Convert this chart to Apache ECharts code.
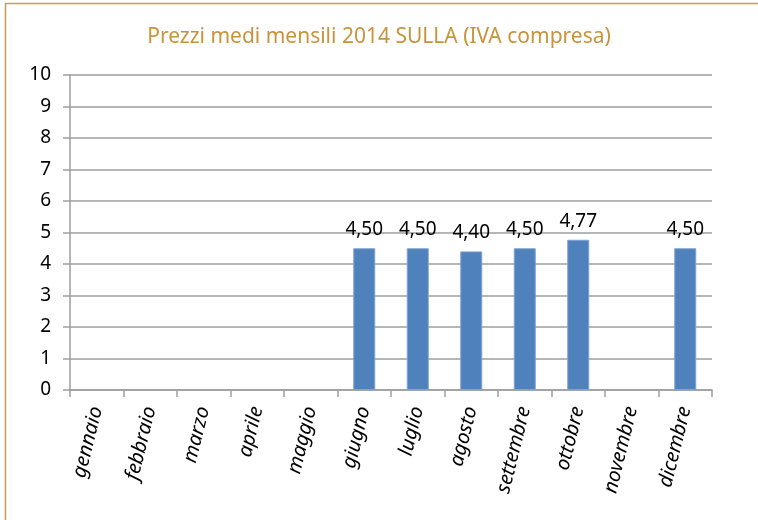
<!DOCTYPE html>
<html>
<head>
<meta charset="utf-8">
<script src="https://cdn.jsdelivr.net/npm/echarts@6/dist/echarts.min.js"></script>
<style>
  html, body { margin: 0; padding: 0; background: #fff; }
  #chart { width: 758px; height: 520px; }
</style>
</head>
<body>
<div id="chart"></div>
<script>
// dati
var mesi = ['gennaio', 'febbraio', 'marzo', 'aprile', 'maggio', 'giugno',
            'luglio', 'agosto', 'settembre', 'ottobre', 'novembre', 'dicembre'];
var prezzi = [null, null, null, null, null, 4.50, 4.50, 4.40, 4.50, 4.77, null, 4.50];
var tickY = [0, 1, 2, 3, 4, 5, 6, 7, 8, 9, 10];

var dom = document.getElementById('chart');
var myChart = echarts.init(dom);
var font = '"Noto Sans", "Open Sans", sans-serif';

var option = {
    animation: false,
    title: {
        text: 'Prezzi medi mensili 2014 SULLA (IVA compresa)',
        left: 'center',
        top: 22,
        textStyle: { color: '#C9933B', fontSize: 21, fontWeight: 'normal', fontFamily: font }
    },
    graphic: [
        {   // cornice esterna (solo lati sinistro e superiore visibili)
            type: 'polyline',
            shape: { points: [[5.5, 530], [5.5, 3.5], [760, 3.5]] },
            style: { stroke: '#D29B4C', lineWidth: 1.5, fill: null }
        }
    ],
    grid: { left: 70, right: 46, top: 75, bottom: 130 },
    xAxis: {
        type: 'category',
        data: mesi,
        axisLine: { lineStyle: { color: '#9e9e9e', width: 1.5 } },
        axisTick: { show: true, length: 7, lineStyle: { color: '#9e9e9e', width: 1.5 } },
        axisLabel: {
            rotate: 76,
            margin: 17,
            color: '#000',
            fontSize: 20,
            fontStyle: 'italic',
            fontFamily: font,
            hideOverlap: false,
            interval: 0
        }
    },
    yAxis: {
        type: 'value',
        min: tickY[0],
        max: tickY[tickY.length - 1],
        interval: 1,
        axisLine: { show: true, lineStyle: { color: '#9e9e9e', width: 1.5 } },
        axisTick: { show: true, length: 7, lineStyle: { color: '#9e9e9e', width: 1.5 } },
        splitLine: { lineStyle: { color: '#9e9e9e', width: 1.5 } },
        axisLabel: { color: '#000', fontSize: 19, margin: 19, fontFamily: font }
    },
    series: [
        {
            type: 'bar',
            data: prezzi,
            barWidth: 22,
            itemStyle: { color: '#4F81BD', borderColor: '#7FA3D2', borderWidth: 1 },
            label: {
                show: true,
                position: 'top',
                distance: 9,
                color: '#000',
                fontSize: 19,
                fontFamily: font,
                formatter: function (p) { return p.value.toFixed(2).replace('.', ','); }
            }
        }
    ]
};

if (option && typeof option === "object") {
    myChart.setOption(option, true);
}
</script>
</body>
</html>
